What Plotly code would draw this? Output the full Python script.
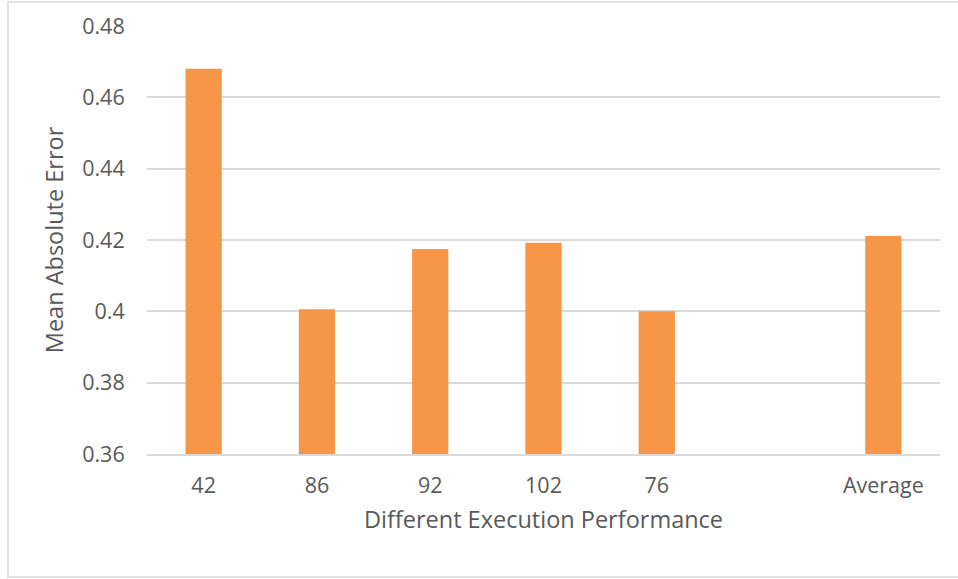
import plotly.graph_objects as go

# Mean absolute error per execution-performance group, plus the overall average
categories = ["42", "86", "92", "102", "76", " ", "Average"]
mae_values = [0.468, 0.4006, 0.4175, 0.4192, 0.400, None, 0.4211]
y_ticks = [0.36, 0.38, 0.40, 0.42, 0.44, 0.46, 0.48]
y_tick_labels = ["0.36", "0.38", "0.4", "0.42", "0.44", "0.46", "0.48"]

W, H = 958, 579
L, R, T, B = 147, 18, 26, 125
pw, ph = W - L - R, H - T - B

def px_x(x):
    return (x - L) / pw

def px_y(y):
    return (H - B - y) / ph

text_color = "#595959"
grid_color = "#d9d9d9"
font_family = "Open Sans, Liberation Sans, sans-serif"

fig = go.Figure(
    go.Bar(
        x=categories,
        y=mae_values,
        marker=dict(color="#F79646", line=dict(width=0)),
        width=0.32,
    )
)

fig.update_layout(
    width=W,
    height=H,
    margin=dict(l=L, r=R, t=T, b=B),
    paper_bgcolor="white",
    plot_bgcolor="white",
    showlegend=False,
    font=dict(family=font_family, color=text_color, size=21),
    xaxis=dict(
        type="category",
        categoryorder="array",
        categoryarray=categories,
        showgrid=False,
        showline=True,
        linecolor=grid_color,
        linewidth=1.5,
        ticks="outside",
        ticklen=11,
        tickcolor="rgba(0,0,0,0)",
        tickfont=dict(size=21.5, color=text_color),
        title=dict(text="Different Execution Performance",
                   font=dict(size=23.5, color=text_color), standoff=14),
    ),
    yaxis=dict(
        range=[0.36, 0.48],
        tickvals=y_ticks,
        ticktext=y_tick_labels,
        showgrid=True,
        gridcolor=grid_color,
        gridwidth=1.5,
        zeroline=False,
        showline=False,
        ticks="outside",
        ticklen=17,
        tickcolor="rgba(0,0,0,0)",
        tickfont=dict(size=21.5, color=text_color),
        title=dict(text="Mean Absolute Error",
                   font=dict(size=23.5, color=text_color), standoff=11),
    ),
    shapes=[
        dict(
            type="rect", xref="paper", yref="paper",
            x0=px_x(8), x1=px_x(965), y0=px_y(577), y1=px_y(2),
            line=dict(color=grid_color, width=1.5),
            fillcolor="rgba(0,0,0,0)", layer="below",
        )
    ],
)

fig.write_html("out.html")
